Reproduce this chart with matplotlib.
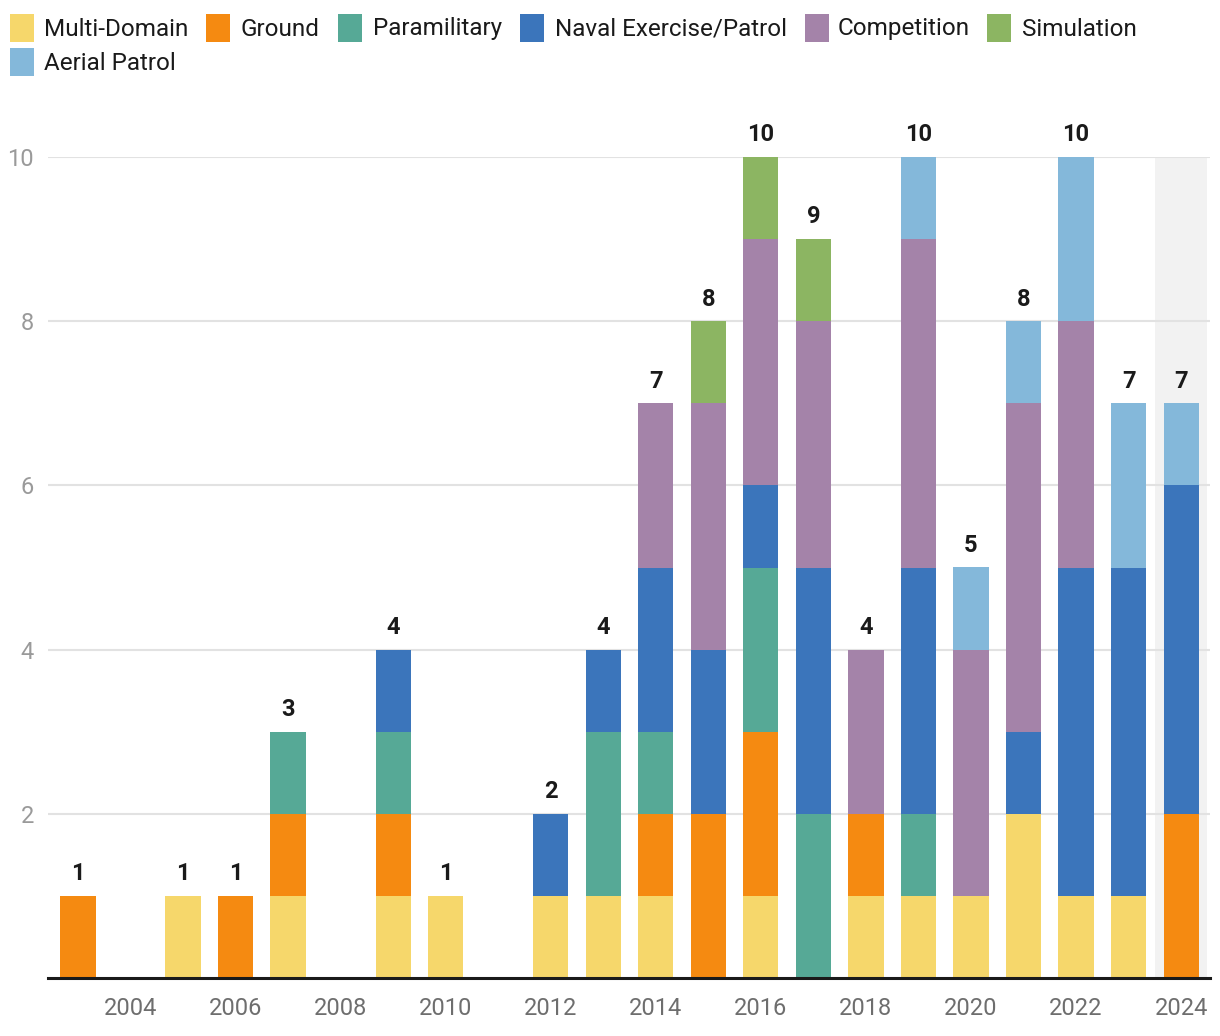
import matplotlib
matplotlib.use("Agg")
import matplotlib.pyplot as plt
from matplotlib.patches import Rectangle
import numpy as np

plt.rcParams['font.family'] = ['Roboto', 'DejaVu Sans']

years = list(range(2003, 2025))
categories = ["Multi-Domain", "Ground", "Paramilitary", "Naval Exercise/Patrol",
              "Competition", "Simulation", "Aerial Patrol"]
colors = ["#f6d76b", "#f58a11", "#56a996", "#3b75bb", "#a483a9", "#8cb562", "#84b8da"]

#               03 04 05 06 07 08 09 10 11 12 13 14 15 16 17 18 19 20 21 22 23 24
multi_domain = [0, 0, 1, 0, 1, 0, 1, 1, 0, 1, 1, 1, 0, 1, 0, 1, 1, 1, 2, 1, 1, 0]
ground       = [1, 0, 0, 1, 1, 0, 1, 0, 0, 0, 0, 1, 2, 2, 0, 1, 0, 0, 0, 0, 0, 2]
paramilitary = [0, 0, 0, 0, 1, 0, 1, 0, 0, 0, 2, 1, 0, 2, 2, 0, 1, 0, 0, 0, 0, 0]
naval        = [0, 0, 0, 0, 0, 0, 1, 0, 0, 1, 1, 2, 2, 1, 3, 0, 3, 0, 1, 4, 4, 4]
competition  = [0, 0, 0, 0, 0, 0, 0, 0, 0, 0, 0, 2, 3, 3, 3, 2, 4, 3, 4, 3, 0, 0]
simulation   = [0, 0, 0, 0, 0, 0, 0, 0, 0, 0, 0, 0, 1, 1, 1, 0, 0, 0, 0, 0, 0, 0]
aerial       = [0, 0, 0, 0, 0, 0, 0, 0, 0, 0, 0, 0, 0, 0, 0, 0, 1, 1, 1, 2, 2, 1]
series = [multi_domain, ground, paramilitary, naval, competition, simulation, aerial]
xticks = [2004, 2006, 2008, 2010, 2012, 2014, 2016, 2018, 2020, 2022, 2024]
yticks = [2, 4, 6, 8, 10]
highlight_year = 2024

W, H = 1220, 1036
fig = plt.figure(figsize=(W / 100, H / 100), dpi=100)
ax = fig.add_axes([48 / W, 1 - 978 / H, (1210 - 48) / W, (978 - 157) / H])

x = np.array(years)
bottom = np.zeros(len(years))
for vals, c in zip(series, colors):
    v = np.array(vals, dtype=float)
    ax.bar(x, v, bottom=bottom, width=0.67, color=c, linewidth=0, zorder=3)
    bottom += v

ax.axvspan(highlight_year - 0.5, highlight_year + 0.5, color="#f2f2f2", zorder=0, lw=0)

for xi, tot in zip(x, bottom):
    if tot > 0:
        ax.text(xi, tot + 0.13, f"{int(tot)}", ha="center", va="bottom",
                fontsize=17, fontweight="bold", color="#1a1a1a", zorder=4, clip_on=False)

ax.set_xlim(2002.43, 2024.55)
ax.set_ylim(0, 10)
ax.set_yticks(yticks)
ax.set_xticks(xticks)
ax.set_xticklabels([str(t) for t in xticks])
ax.tick_params(axis="x", length=0, labelsize=17, labelcolor="#6e6e6e", pad=14)
ax.tick_params(axis="y", length=0, labelsize=17, labelcolor="#9a9a9a", pad=10)
ax.grid(axis="y", color="#e2e2e2", linewidth=1.5, zorder=1)
ax.set_axisbelow(True)
for s in ["top", "right", "left"]:
    ax.spines[s].set_visible(False)
ax.spines["bottom"].set_color("#1a1a1a")
ax.spines["bottom"].set_linewidth(2.2)
ax.spines["bottom"].set_zorder(5)

# Legend (manual layout)
legend_items = [
    (10, 14, 44), (206, 14, 241), (338, 14, 373), (520, 14, 555),
    (805, 14, 838), (987, 14, 1022), (10, 48, 44),
]
for (sx, sy, tx), lab, c in zip(legend_items, categories, colors):
    fig.patches.append(Rectangle((sx / W, 1 - (sy + 28) / H), 24 / W, 28 / H,
                                 transform=fig.transFigure, color=c, lw=0))
    fig.text(tx / W, 1 - (sy + 15) / H, lab, ha="left", va="center",
             fontsize=17.5, color="#1a1a1a")

fig.savefig("out.png", dpi=100)
